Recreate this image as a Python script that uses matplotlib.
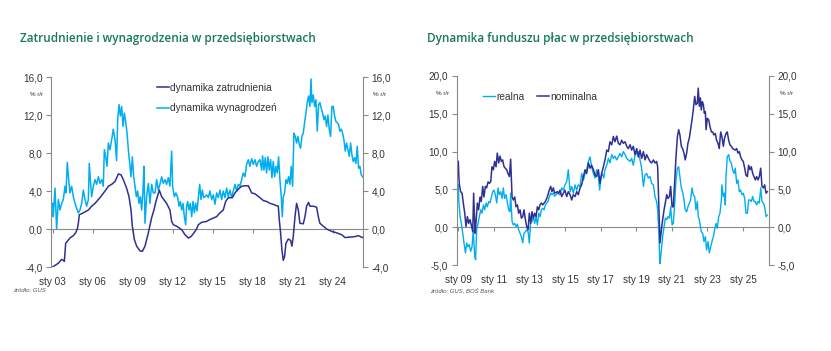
import numpy as np
import matplotlib
matplotlib.use("Agg")
import matplotlib.pyplot as plt
from matplotlib.ticker import FuncFormatter

# --- wykres 1: zatrudnienie i wynagrodzenia (% r/r) ---
zatr_t = [2003.0, 2003.43, 2003.68, 2003.8, 2003.88, 2003.98, 2004.3, 2004.55, 2004.73, 2004.85,
          2004.93, 2005.0, 2005.3, 2005.68, 2005.93, 2006.18, 2006.55, 2006.93, 2007.18, 2007.43,
          2007.68, 2007.93, 2008.13, 2008.3, 2008.55, 2008.73, 2008.88, 2008.98, 2009.13, 2009.3,
          2009.55, 2009.73, 2009.93, 2010.18, 2010.43, 2010.6, 2010.75, 2010.9, 2011.0, 2011.18,
          2011.55, 2011.8, 2011.93, 2012.05, 2012.3, 2012.68, 2012.93, 2013.18, 2013.38, 2013.63,
          2013.8, 2013.93, 2014.18, 2014.55, 2014.8, 2015.05, 2015.3, 2015.55, 2015.8, 2015.98,
          2016.18, 2016.48, 2016.68, 2016.93, 2017.18, 2017.43, 2017.68, 2017.93, 2018.18, 2018.55,
          2018.8, 2019.05, 2019.3, 2019.55, 2019.8, 2019.93, 2020.0, 2020.1, 2020.2, 2020.3,
          2020.4, 2020.5, 2020.68, 2020.85, 2020.95, 2021.05, 2021.18, 2021.3, 2021.43, 2021.55,
          2021.8, 2021.93, 2022.05, 2022.2, 2022.3, 2022.55, 2022.8, 2022.93, 2023.05, 2023.3,
          2023.55, 2023.93, 2024.3, 2024.68, 2024.93, 2025.3, 2025.68, 2025.93, 2026.25]
zatr_v = [-4.0, -3.6, -3.2, -3.3, -3.4, -1.5, -0.95, -0.7, -0.4, 0.0,
          0.6, 1.5, 1.7, 2.0, 2.4, 2.7, 3.3, 4.0, 4.5, 4.7,
          5.0, 5.8, 5.7, 5.2, 4.3, 3.4, 2.0, 0.3, -1.1, -1.8,
          -2.3, -2.35, -1.8, -0.4, 1.2, 2.0, 2.9, 3.6, 4.1, 3.4,
          2.7, 2.0, 0.8, 0.45, 0.3, -0.07, -0.6, -0.95, -0.8, -0.35,
          0.0, 0.45, 0.7, 0.8, 1.0, 1.15, 1.3, 1.7, 2.0, 2.9,
          3.3, 3.3, 3.8, 4.2, 4.5, 4.55, 4.55, 3.8, 3.7, 3.3,
          3.0, 2.9, 2.7, 2.6, 2.45, 2.4, 1.0, -0.4, -2.2, -3.3,
          -2.9, -1.5, -1.05, -1.2, -1.8, -0.8, 1.3, 2.7, 2.0, 0.6,
          0.55, 1.3, 2.4, 2.8, 2.4, 2.4, 2.3, 1.3, 0.6, 0.3,
          0.0, -0.25, -0.4, -0.6, -0.9, -0.85, -0.8, -0.7, -0.9]

wyn_t = [2003.0, 2003.05, 2003.18, 2003.3, 2003.43, 2003.55, 2003.68, 2003.8, 2003.93, 2004.0,
         2004.1, 2004.23, 2004.3, 2004.43, 2004.55, 2004.68, 2004.8, 2004.93, 2005.05, 2005.18,
         2005.3, 2005.43, 2005.55, 2005.68, 2005.75, 2005.85, 2005.93, 2006.05, 2006.18, 2006.3,
         2006.43, 2006.55, 2006.68, 2006.8, 2006.88, 2006.98, 2007.08, 2007.18, 2007.3, 2007.43,
         2007.55, 2007.68, 2007.8, 2007.88, 2007.98, 2008.08, 2008.18, 2008.28, 2008.38, 2008.48,
         2008.58, 2008.68, 2008.78, 2008.88, 2008.98, 2009.08, 2009.18, 2009.28, 2009.38, 2009.48,
         2009.58, 2009.68, 2009.78, 2009.85, 2009.93, 2010.05, 2010.18, 2010.3, 2010.43, 2010.55,
         2010.68, 2010.8, 2010.93, 2011.05, 2011.18, 2011.3, 2011.43, 2011.55, 2011.68, 2011.8,
         2011.93, 2012.0, 2012.13, 2012.25, 2012.38, 2012.48, 2012.58, 2012.68, 2012.78, 2012.88,
         2012.98, 2013.05, 2013.13, 2013.23, 2013.33, 2013.43, 2013.53, 2013.63, 2013.73, 2013.83,
         2013.93, 2014.03, 2014.13, 2014.23, 2014.33, 2014.43, 2014.55, 2014.68, 2014.8, 2014.93,
         2015.05, 2015.18, 2015.3, 2015.43, 2015.55, 2015.68, 2015.8, 2015.93, 2016.05, 2016.18,
         2016.3, 2016.43, 2016.55, 2016.68, 2016.8, 2016.93, 2017.05, 2017.18, 2017.3, 2017.43,
         2017.55, 2017.68, 2017.8, 2017.93, 2018.05, 2018.18, 2018.3, 2018.43, 2018.55, 2018.68,
         2018.75, 2018.85, 2018.95, 2019.05, 2019.15, 2019.25, 2019.35, 2019.45, 2019.55, 2019.65,
         2019.75, 2019.85, 2019.95, 2020.05, 2020.15, 2020.23, 2020.3, 2020.4, 2020.5, 2020.6,
         2020.7, 2020.8, 2020.9, 2021.0, 2021.1, 2021.2, 2021.3, 2021.4, 2021.5, 2021.6,
         2021.7, 2021.8, 2021.9, 2022.0, 2022.1, 2022.2, 2022.3, 2022.38, 2022.45, 2022.55,
         2022.65, 2022.75, 2022.85, 2022.95, 2023.05, 2023.15, 2023.25, 2023.35, 2023.45, 2023.55,
         2023.65, 2023.75, 2023.85, 2023.95, 2024.05, 2024.15, 2024.25, 2024.35, 2024.45, 2024.55,
         2024.65, 2024.75, 2024.85, 2024.95, 2025.05, 2025.15, 2025.25, 2025.35, 2025.45, 2025.55,
         2025.65, 2025.75, 2025.85, 2025.95, 2026.05, 2026.15, 2026.25]
wyn_v = [2.7, 1.3, 4.3, 0.0, 3.1, 2.0, 2.7, 3.1, 4.5, 3.8,
         7.0, 4.8, 3.8, 4.5, 3.4, 2.7, 2.2, 1.7, 2.0, 2.7,
         4.1, 3.1, 2.4, 3.1, 6.9, 4.8, 3.4, 4.5, 5.2, 4.7,
         5.5, 4.8, 5.2, 4.5, 8.35, 7.6, 6.6, 9.05, 8.35, 9.4,
         10.5, 9.4, 7.2, 11.5, 13.1, 11.9, 12.9, 10.8, 12.2, 11.3,
         10.1, 8.35, 6.9, 5.5, 7.6, 5.5, 4.5, 3.4, 4.0, 2.7,
         3.4, 2.0, 4.1, 6.6, 0.6, 3.4, 4.8, 2.7, 4.7, 3.8,
         3.8, 5.2, 4.1, 4.7, 5.5, 4.8, 5.2, 4.7, 5.4, 4.5,
         8.2, 4.5, 3.4, 3.8, 3.3, 2.4, 2.9, 2.0, 2.7, 1.3,
         0.45, 2.4, 2.9, 2.0, 2.7, 1.3, 2.9, 1.7, 2.7, 1.9,
         3.3, 4.7, 3.1, 4.1, 3.3, 3.4, 3.6, 3.3, 4.0, 3.1,
         3.6, 2.6, 3.8, 3.3, 4.1, 3.1, 4.0, 3.3, 4.3, 3.4,
         4.1, 3.3, 4.0, 4.7, 4.0, 4.7, 4.5, 5.2, 5.9, 5.5,
         6.8, 7.3, 6.6, 7.4, 6.8, 7.3, 6.6, 7.1, 7.3, 6.2,
         7.7, 6.2, 7.5, 5.9, 7.6, 6.2, 7.3, 5.4, 7.1, 5.5,
         6.6, 5.9, 7.6, 5.2, 3.4, 1.3, 3.4, 3.8, 5.2, 4.8,
         5.5, 4.7, 6.6, 4.5, 10.1, 9.75, 9.05, 9.75, 8.9, 8.5,
         9.75, 10.1, 11.2, 12.2, 13.3, 14.0, 12.9, 15.8, 13.3, 14.1,
         12.9, 13.6, 10.3, 13.1, 13.3, 12.7, 12.2, 11.5, 11.9, 10.8,
         12.0, 10.5, 9.75, 12.9, 12.9, 11.9, 11.3, 11.2, 11.0, 10.3,
         10.5, 10.1, 9.4, 8.2, 9.05, 8.35, 7.65, 9.05, 7.8, 7.1,
         7.5, 6.9, 8.7, 6.4, 6.6, 5.7, 5.5]

# --- wykres 2: dynamika funduszu plac (% r/r) ---
real_t = [2009.0, 2009.03, 2009.1, 2009.17, 2009.25, 2009.32, 2009.4, 2009.47, 2009.54, 2009.62,
          2009.69, 2009.77, 2009.84, 2009.92, 2009.97, 2010.03, 2010.11, 2010.18, 2010.26, 2010.33,
          2010.41, 2010.48, 2010.56, 2010.63, 2010.71, 2010.78, 2010.86, 2010.93, 2011.01, 2011.08,
          2011.16, 2011.23, 2011.3, 2011.38, 2011.46, 2011.53, 2011.6, 2011.68, 2011.75, 2011.83,
          2011.9, 2011.94, 2012.02, 2012.09, 2012.17, 2012.24, 2012.32, 2012.39, 2012.47, 2012.54,
          2012.62, 2012.69, 2012.77, 2012.84, 2012.92, 2012.99, 2013.07, 2013.14, 2013.22, 2013.29,
          2013.37, 2013.44, 2013.52, 2013.59, 2013.67, 2013.74, 2013.82, 2013.89, 2013.97, 2014.04,
          2014.11, 2014.19, 2014.26, 2014.34, 2014.41, 2014.49, 2014.56, 2014.64, 2014.71, 2014.81,
          2014.9, 2014.99, 2015.09, 2015.18, 2015.28, 2015.37, 2015.46, 2015.56, 2015.65, 2015.74,
          2015.84, 2015.93, 2016.03, 2016.12, 2016.21, 2016.31, 2016.4, 2016.49, 2016.59, 2016.68,
          2016.77, 2016.87, 2016.94, 2017.02, 2017.09, 2017.17, 2017.24, 2017.34, 2017.43, 2017.52,
          2017.62, 2017.71, 2017.8, 2017.9, 2017.99, 2018.08, 2018.18, 2018.27, 2018.37, 2018.46,
          2018.55, 2018.65, 2018.74, 2018.83, 2018.93, 2019.02, 2019.11, 2019.21, 2019.3, 2019.4,
          2019.49, 2019.58, 2019.68, 2019.77, 2019.86, 2019.96, 2020.05, 2020.14, 2020.2, 2020.26,
          2020.31, 2020.33, 2020.41, 2020.48, 2020.56, 2020.63, 2020.71, 2020.78, 2020.86, 2020.93,
          2021.01, 2021.08, 2021.16, 2021.23, 2021.31, 2021.38, 2021.45, 2021.53, 2021.6, 2021.68,
          2021.75, 2021.83, 2021.9, 2021.98, 2022.05, 2022.13, 2022.2, 2022.28, 2022.35, 2022.43,
          2022.48, 2022.54, 2022.6, 2022.65, 2022.73, 2022.8, 2022.88, 2022.95, 2023.03, 2023.1,
          2023.18, 2023.25, 2023.33, 2023.4, 2023.48, 2023.55, 2023.63, 2023.7, 2023.78, 2023.81,
          2023.89, 2023.96, 2024.0, 2024.04, 2024.11, 2024.19, 2024.26, 2024.34, 2024.41, 2024.49,
          2024.56, 2024.64, 2024.71, 2024.79, 2024.86, 2024.94, 2025.01, 2025.09, 2025.16, 2025.24,
          2025.31, 2025.39, 2025.46, 2025.54, 2025.61, 2025.69, 2025.76, 2025.84, 2025.91, 2025.99,
          2026.06, 2026.14, 2026.21, 2026.29, 2026.36]
real_v = [5.6, 3.4, 1.4, 0.5, -0.8, -2.1, -3.4, -2.1, -2.6, -2.3,
          -3.2, -2.6, -0.35, -3.9, -4.3, -0.35, 0.5, 1.4, 2.3, 1.85,
          2.95, 2.3, 3.2, 2.7, 3.4, 3.2, 4.0, 4.7, 4.9, 4.3,
          3.2, 5.2, 4.3, 4.7, 3.8, 5.2, 3.8, 4.3, 3.4, 2.3,
          2.05, 4.5, 0.75, 0.3, 0.5, 0.1, 0.4, -0.35, -0.8, -1.25,
          -2.05, -0.8, -0.6, -0.35, -0.6, -2.1, 1.2, 0.75, 1.4, 0.5,
          1.4, 0.3, 1.85, 1.4, 2.3, 2.5, 2.3, 2.95, 3.2, 3.4,
          4.0, 4.5, 4.3, 4.5, 4.1, 4.3, 4.5, 4.4, 4.3, 5.2,
          4.9, 5.6, 6.0, 7.6, 4.7, 5.4, 4.5, 5.6, 4.9, 5.6,
          5.4, 7.1, 6.25, 7.1, 7.6, 8.7, 9.3, 8.0, 7.1, 6.5,
          7.6, 6.7, 4.9, 6.7, 7.1, 6.5, 7.6, 8.2, 9.1, 8.5,
          9.6, 9.1, 9.4, 8.9, 9.3, 9.75, 9.3, 10.0, 9.6, 9.1,
          8.9, 8.7, 9.1, 8.2, 9.6, 9.75, 10.0, 8.9, 7.8, 5.4,
          6.9, 7.1, 6.5, 6.7, 5.8, 5.6, 4.05, 3.4, 2.3, -0.35,
          -3.9, -4.8, -3.0, -1.25, 0.1, 1.2, 1.0, 1.4, 1.2, 2.7,
          0.3, 0.5, 3.2, 6.25, 7.8, 8.0, 6.7, 5.2, 4.7, 3.6,
          2.3, 2.05, 2.7, 3.2, 3.6, 5.2, 4.3, 4.05, 2.3, 3.4,
          1.4, 1.0, 0.1, -0.6, -0.8, -1.9, -1.25, -3.0, -1.9, -3.4,
          -2.6, -1.9, -1.25, -0.35, 0.5, -0.15, 1.4, 1.85, 3.6, 5.6,
          4.05, 4.5, 2.95, 6.7, 9.3, 9.6, 8.7, 8.5, 7.6, 7.1,
          7.8, 5.8, 6.25, 4.7, 4.9, 4.3, 4.5, 3.8, 1.85, 1.85,
          3.6, 3.6, 3.4, 4.05, 3.4, 3.4, 2.95, 3.4, 3.2, 5.2,
          3.4, 3.2, 2.7, 1.4, 1.6]

nom_t = [2009.0, 2009.03, 2009.06, 2009.13, 2009.21, 2009.28, 2009.36, 2009.43, 2009.51, 2009.58,
         2009.66, 2009.73, 2009.81, 2009.86, 2009.94, 2009.99, 2010.07, 2010.14, 2010.22, 2010.29,
         2010.37, 2010.44, 2010.52, 2010.59, 2010.67, 2010.74, 2010.82, 2010.89, 2010.97, 2011.04,
         2011.12, 2011.19, 2011.27, 2011.34, 2011.42, 2011.49, 2011.57, 2011.64, 2011.72, 2011.79,
         2011.87, 2011.94, 2012.02, 2012.09, 2012.17, 2012.24, 2012.32, 2012.39, 2012.47, 2012.54,
         2012.62, 2012.69, 2012.77, 2012.84, 2012.92, 2012.99, 2013.07, 2013.14, 2013.22, 2013.29,
         2013.37, 2013.44, 2013.52, 2013.59, 2013.67, 2013.74, 2013.82, 2013.89, 2013.97, 2014.04,
         2014.11, 2014.19, 2014.26, 2014.34, 2014.41, 2014.49, 2014.56, 2014.64, 2014.71, 2014.81,
         2014.9, 2014.99, 2015.09, 2015.18, 2015.28, 2015.37, 2015.46, 2015.56, 2015.65, 2015.74,
         2015.84, 2015.93, 2016.03, 2016.12, 2016.21, 2016.31, 2016.4, 2016.49, 2016.59, 2016.68,
         2016.77, 2016.87, 2016.96, 2017.05, 2017.15, 2017.24, 2017.34, 2017.43, 2017.52, 2017.62,
         2017.71, 2017.8, 2017.9, 2017.99, 2018.08, 2018.18, 2018.27, 2018.37, 2018.46, 2018.55,
         2018.65, 2018.74, 2018.83, 2018.93, 2019.02, 2019.11, 2019.21, 2019.3, 2019.4, 2019.49,
         2019.58, 2019.68, 2019.77, 2019.86, 2019.96, 2020.05, 2020.14, 2020.2, 2020.24, 2020.29,
         2020.33, 2020.41, 2020.48, 2020.56, 2020.63, 2020.71, 2020.78, 2020.86, 2020.93, 2021.01,
         2021.08, 2021.16, 2021.23, 2021.31, 2021.38, 2021.45, 2021.53, 2021.6, 2021.68, 2021.75,
         2021.83, 2021.9, 2021.98, 2022.05, 2022.13, 2022.2, 2022.28, 2022.35, 2022.43, 2022.48,
         2022.54, 2022.6, 2022.65, 2022.71, 2022.77, 2022.82, 2022.88, 2022.92, 2022.99, 2023.07,
         2023.14, 2023.22, 2023.29, 2023.36, 2023.44, 2023.51, 2023.59, 2023.66, 2023.74, 2023.81,
         2023.89, 2023.96, 2024.04, 2024.11, 2024.19, 2024.26, 2024.34, 2024.41, 2024.49, 2024.56,
         2024.64, 2024.71, 2024.79, 2024.86, 2024.94, 2025.01, 2025.09, 2025.16, 2025.24, 2025.31,
         2025.39, 2025.46, 2025.54, 2025.61, 2025.69, 2025.76, 2025.84, 2025.91, 2025.99, 2026.06,
         2026.14, 2026.21, 2026.29, 2026.36]
nom_v = [8.7, 6.7, 5.6, 4.7, 4.5, 3.2, 1.85, 0.1, 1.4, 0.5,
         1.0, 0.3, -0.6, 4.5, -0.8, 0.5, 3.2, 2.3, 4.0, 3.4,
         5.4, 4.0, 5.4, 5.2, 6.0, 5.8, 6.0, 8.0, 7.6, 8.7,
         8.0, 9.8, 8.5, 9.4, 8.7, 8.9, 8.0, 7.8, 7.6, 7.1,
         6.7, 9.0, 4.0, 3.6, 4.0, 2.7, 2.95, 1.85, 2.3, 1.2,
         1.4, 2.3, 1.0, 0.1, -0.35, 1.85, 0.5, 2.05, 1.2, 1.85,
         1.4, 2.7, 2.3, 2.95, 3.2, 2.95, 3.2, 3.4, 3.8, 4.3,
         4.9, 5.4, 4.7, 5.2, 4.5, 4.6, 4.7, 4.5, 4.9, 4.05,
         4.5, 4.9, 4.05, 4.7, 4.3, 3.6, 4.3, 4.05, 4.7, 4.3,
         5.2, 5.6, 6.7, 7.6, 7.1, 8.5, 7.8, 8.2, 7.6, 6.9,
         6.7, 7.6, 5.8, 7.1, 8.0, 8.9, 10.2, 10.0, 11.3, 10.9,
         12.0, 11.3, 12.05, 11.1, 10.9, 11.5, 11.1, 11.3, 10.7, 10.4,
         10.9, 10.2, 10.7, 9.6, 10.4, 9.3, 10.2, 9.1, 10.0, 8.9,
         9.6, 9.1, 8.7, 8.5, 8.9, 8.5, 8.7, 8.0, 4.9, 1.0,
         -2.1, -0.35, 1.0, 2.3, 3.2, 4.3, 3.8, 4.05, 5.4, 2.7,
         2.7, 6.25, 9.3, 12.0, 12.9, 12.2, 10.7, 10.4, 9.8, 8.9,
         9.8, 11.1, 11.8, 12.9, 14.2, 15.5, 17.3, 16.2, 16.4, 18.4,
         16.0, 17.1, 15.5, 16.6, 16.2, 15.1, 15.3, 12.9, 14.4, 14.2,
         13.3, 12.6, 12.6, 12.2, 12.4, 11.5, 11.1, 10.4, 12.6, 12.0,
         10.7, 11.8, 12.4, 12.6, 11.5, 10.9, 10.7, 10.4, 10.3, 10.2,
         10.4, 9.8, 10.0, 9.3, 8.9, 8.7, 7.8, 6.9, 6.7, 8.2,
         7.6, 8.0, 7.1, 6.7, 6.25, 6.7, 6.25, 6.7, 7.8, 5.4,
         5.2, 5.6, 4.5, 4.7]

# etykiety osi
lata1 = [2003, 2006, 2009, 2012, 2015, 2018, 2021, 2024]
etyk1 = ['sty 03', 'sty 06', 'sty 09', 'sty 12', 'sty 15', 'sty 18', 'sty 21', 'sty 24']
lata2 = [2009, 2011, 2013, 2015, 2017, 2019, 2021, 2023, 2025]
etyk2 = ['sty 09', 'sty 11', 'sty 13', 'sty 15', 'sty 17', 'sty 19', 'sty 21', 'sty 23', 'sty 25']
osy1 = [-4, 0, 4, 8, 12, 16]
osy2 = [-5, 0, 5, 10, 15, 20]

GRANAT = '#2e3192'
BLEKIT = '#00aeef'
ZIELONY = '#18785a'
SZARY = '#8a8a8a'
TEKST = '#333333'

plt.rcParams['font.family'] = ['Liberation Sans', 'DejaVu Sans']

przecinek = FuncFormatter(lambda v, p: f"{v:.1f}".replace('.', ','))


def ustaw_os(ax, xlim, yticks, lata, etyk):
    ax.set_xlim(*xlim)
    ax.set_ylim(yticks[0], yticks[-1])
    for s in ['top', 'bottom']:
        ax.spines[s].set_visible(False)
    for s in ['left', 'right']:
        ax.spines[s].set_color(SZARY)
        ax.spines[s].set_linewidth(0.8)
    ax.set_yticks(yticks)
    ax.yaxis.set_major_formatter(przecinek)
    ax.yaxis.set_ticks_position('both')
    ax.tick_params(axis='y', direction='out', length=3.6, width=0.8, color=SZARY,
                   labelleft=True, labelright=True, labelsize=7.2, labelcolor=TEKST, pad=2.4)
    ax.set_xticks(lata)
    ax.set_xticklabels(etyk)
    ax.tick_params(axis='x', length=0, labelsize=7.2, labelcolor=TEKST, pad=7)
    # linia zera z krotkimi kreskami
    frac0 = (0 - yticks[0]) / (yticks[-1] - yticks[0])
    sec = ax.secondary_xaxis(frac0)
    sec.set_xticks(lata)
    sec.tick_params(axis='x', direction='out', length=3, width=0.8, color=SZARY,
                    labelbottom=False, labeltop=False)
    for s in sec.spines.values():
        s.set_color(SZARY)
        s.set_linewidth(0.8)
    ax.text(-0.046, 0.909, '% r/r', transform=ax.transAxes, fontsize=4.5,
            color=TEKST, ha='center', va='center')
    ax.text(1.054, 0.909, '% r/r', transform=ax.transAxes, fontsize=4.5,
            color=TEKST, ha='center', va='center')


fig = plt.figure(figsize=(8.31, 3.51), dpi=100)
fig.patch.set_facecolor('white')

# lewy wykres
ax1 = fig.add_axes([0.0614, 0.2393, 0.3754, 0.5413])
ustaw_os(ax1, (2002.88, 2026.28), osy1, lata1, etyk1)
ax1.plot(wyn_t, wyn_v, color=BLEKIT, lw=1.1, label='dynamika wynagrodzeń')
ax1.plot(zatr_t, zatr_v, color=GRANAT, lw=1.1, label='dynamika zatrudnienia')
h, l = ax1.get_legend_handles_labels()
ax1.legend(h[::-1], l[::-1], loc='upper left', bbox_to_anchor=(0.34, 0.971), frameon=False,
           fontsize=7.3, handlelength=1.2, handletextpad=0.1, labelspacing=1.05,
           borderpad=0, borderaxespad=0, labelcolor=TEKST)

# prawy wykres
ax2 = fig.add_axes([0.5496, 0.245, 0.3761, 0.5385])
ustaw_os(ax2, (2008.91, 2026.47), osy2, lata2, etyk2)
ax2.plot(real_t, real_v, color=BLEKIT, lw=1.0, label='realna')
ax2.plot(nom_t, nom_v, color=GRANAT, lw=1.1, label='nominalna')
ax2.legend(loc='upper left', bbox_to_anchor=(0.084, 0.917), frameon=False, ncol=2,
           fontsize=7.3, handlelength=1.2, handletextpad=0.1, columnspacing=1.25,
           borderpad=0, borderaxespad=0, labelcolor=TEKST)

# tytuly i zrodla
fig.text(20 / 831, 1 - 38.3 / 351, 'Zatrudnienie i wynagrodzenia w przedsiębiorstwach',
         fontsize=8.5, color=ZIELONY, va='center', ha='left', weight='semibold',
         family=['Open Sans', 'DejaVu Sans'])
fig.text(426.7 / 831, 1 - 38.3 / 351, 'Dynamika funduszu płac w przedsiębiorstwach',
         fontsize=8.5, color=ZIELONY, va='center', ha='left', weight='semibold',
         family=['Open Sans', 'DejaVu Sans'])
fig.text(13 / 831, 1 - 290 / 351, 'źródło: GUS', fontsize=4.3, style='italic',
         color='#555555', va='center', ha='left')
fig.text(430 / 831, 1 - 290 / 351, 'źródło: GUS, BOŚ Bank', fontsize=4.3, style='italic',
         color='#555555', va='center', ha='left')

fig.savefig('out.png', dpi=100)
